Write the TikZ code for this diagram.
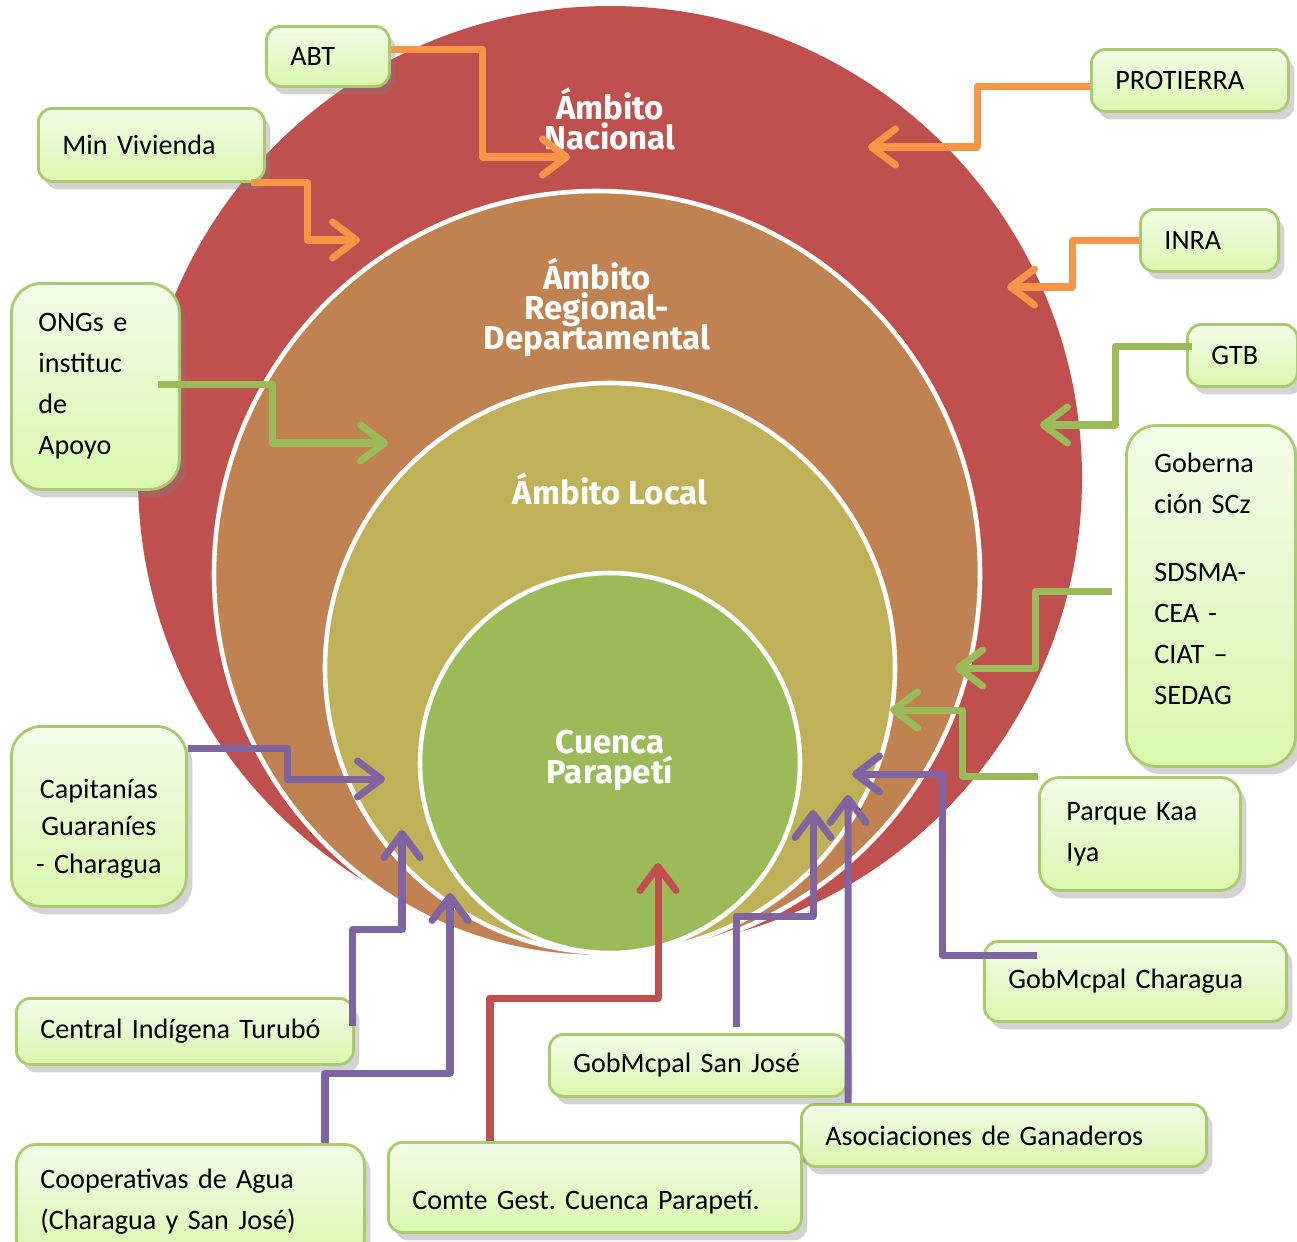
\documentclass[tikz,border=0pt]{standalone}
\usepackage{fontspec}
\setmainfont{Carlito}
\newfontfamily\ringfont{Fira Sans}
\usepackage{tikz}
\usetikzlibrary{arrows.meta,shadows}
\frenchspacing
\newcommand\ringtype{\ringfont\bfseries\fontsize{9.4}{8.5}\selectfont\lineskiplimit -10pt\relax}

\definecolor{nacional}{HTML}{C0504D}
\definecolor{regional}{HTML}{BF8250}
\definecolor{local}{HTML}{BFB158}
\definecolor{cuenca}{HTML}{9BBB59}
\definecolor{boxtop}{HTML}{F2FCE8}
\definecolor{boxbot}{HTML}{DAF8AE}
\definecolor{boxline}{HTML}{A9CB6E}
\definecolor{lorange}{HTML}{F79646}
\definecolor{lgreen}{HTML}{9BBB59}
\definecolor{lpurple}{HTML}{8064A2}
\definecolor{lred}{HTML}{C0504D}

\tikzset{
  ring/.style={circle, draw=white, line width=1.3pt, inner sep=0pt},
  ringlabel/.style={text=white, align=center, font=\ringtype},
  actor/.style={anchor=north west, draw=boxline, line width=0.8pt, rounded corners=1.4mm,
    top color=boxtop, bottom color=boxbot,
    drop shadow={opacity=0.35, shadow xshift=0.6mm, shadow yshift=-0.8mm},
    align=left, inner xsep=2.4mm, inner ysep=0pt, font=\fontsize{8}{11.7}\selectfont},
  link/.style={line width=2pt, line join=round, -{Straight Barb[length=2.4mm,width=3.6mm,round]}}
}

\begin{document}
\begin{tikzpicture}
  \useasboundingbox (0,0) rectangle (12.97,-12.41);

  % nested circles
  \node[circle, fill=nacional, inner sep=0pt, minimum size=9.44cm] (nacional) at (6.10,-4.78) {};
  \node[ring, fill=regional, minimum size=7.66cm] (regional) at (5.97,-5.74) {};
  \node[ring, fill=local, minimum size=5.70cm] (local) at (6.10,-6.68) {};
  \node[ring, fill=cuenca, minimum size=3.80cm] (cuenca) at (6.10,-7.63) {};

  % circle labels
  \node[ringlabel] (lnacional) at (6.10,-1.19) {Ámbito\\Nacional};
  \node[ringlabel] (lregional) at (5.97,-3.07) {Ámbito\\Regional-\\Departamental};
  \node[ringlabel] (llocal) at (6.10,-4.89) {Ámbito Local};
  \node[ringlabel] (lcuenca) at (6.10,-7.60) {Cuenca\\Parapetí};

  % actors
  \node[actor, text width=0.75cm, minimum height=0.60cm] (abt) at (2.65,-0.25) {ABT};
  \node[actor, text width=1.78cm, minimum height=0.73cm] (minviv) at (0.37,-1.07) {Min Vivienda};
  \node[actor, rounded corners=3mm, text width=1.14cm, minimum height=2.06cm, inner xsep=2.7mm] (ongs) at (0.10,-2.82) {ONGs e\\instituc\\de\\Apoyo};
  \node[actor, text width=1.49cm, minimum height=0.62cm] (protierra) at (10.90,-0.48) {PROTIERRA};
  \node[actor, text width=0.90cm, minimum height=0.62cm] (inra) at (11.39,-2.08) {INRA};
  \node[actor, text width=0.62cm, minimum height=0.62cm] (gtb) at (11.86,-3.23) {GTB};
  \node[actor, rounded corners=3mm, text width=1.13cm, minimum height=3.41cm, inner xsep=2.8mm] (goberna) at (11.25,-4.24) {Goberna\\ción SCz\\[0.27cm]SDSMA-\\CEA -\\CIAT –\\SEDAG\\[-0.07cm]\mbox{}};
  \node[actor, rounded corners=2mm, text width=1.47cm, minimum height=1.13cm, inner xsep=2.7mm] (parque) at (10.38,-7.76) {Parque Kaa\\Iya};
  \node[actor, text width=2.54cm, minimum height=0.80cm] (gobcharagua) at (9.83,-9.40) {GobMcpal Charagua};
  \node[actor, text width=3.57cm, minimum height=0.62cm] (asoc) at (8.00,-11.03) {Asociaciones de Ganaderos};
  \node[actor, text width=2.49cm, minimum height=0.62cm] (sanjose) at (5.48,-10.33) {GobMcpal San José};
  \node[actor, text width=3.65cm, minimum height=0.90cm, text height=0.52cm, text depth=0.08cm] (comte) at (3.87,-11.41) {Comte Gest. Cuenca Parapetí.};
  \node[actor, rounded corners=2mm, text width=3.00cm, minimum height=1.15cm] (coop) at (0.15,-11.43) {Cooperativas de Agua\\(Charagua y San José)};
  \node[actor, text width=2.89cm, minimum height=0.66cm] (central) at (0.15,-9.97) {Central Indígena Turubó};
  \node[actor, rounded corners=3mm, align=center, text width=1.27cm, minimum height=1.80cm, font=\fontsize{8}{10.8}\selectfont] (capit) at (0.10,-7.25) {\mbox{}\\[0.06cm]Capitanías\\Guaraníes\\- Charagua};

  % arrow tips
  \coordinate (tipabt) at (5.70,-1.57);
  \coordinate (tipminviv) at (3.60,-2.40);
  \coordinate (tipprot) at (8.68,-1.47);
  \coordinate (tipinra) at (10.07,-2.87);
  \coordinate (tipgtb) at (10.40,-4.25);
  \coordinate (tipongs) at (3.88,-4.43);
  \coordinate (tipgob) at (9.55,-6.68);
  \coordinate (tipparque) at (8.90,-7.10);
  \coordinate (tipcapit) at (3.85,-7.79);
  \coordinate (tipcentral) at (4.02,-8.30);
  \coordinate (tipcoop) at (4.50,-8.93);
  \coordinate (tipsanjose) at (8.13,-8.10);
  \coordinate (tipasoc) at (8.48,-7.95);
  \coordinate (tipgobch) at (8.52,-7.74);
  \coordinate (tipcomte) at (6.58,-8.63);

  % national links
  \draw[link, lorange] ([yshift=0.7mm]abt.east) -- ++(0.92,0) |- (tipabt);
  \draw[link, lorange] ([xshift=-1.5mm]minviv.south east) -- ++(0.57,0) |- (tipminviv);
  \draw[link, lorange] ([yshift=-0.6mm]protierra.west) -- ++(-1.13,0) |- (tipprot);
  \draw[link, lorange] (inra.west) -- ++(-0.67,0) |- (tipinra);

  % regional links
  \draw[link, lgreen] ([xshift=0.6mm,yshift=0.9mm]gtb.west) -- ++(-0.77,0) |- (tipgtb);
  \draw[link, lgreen] ([xshift=-2.3mm,yshift=0.2mm]ongs.east) -- ++(1.15,0) |- (tipongs);
  \draw[link, lgreen] ([xshift=-1.3mm,yshift=0.4mm]goberna.west) -- ++(-0.77,0) |- (tipgob);
  \draw[link, lgreen] (parque.north west) -- ++(-0.76,0) |- (tipparque);

  % local links
  \draw[link, lpurple] ([yshift=-2.3mm]capit.north east) -- ++(1.00,0) |- (tipcapit);
  \draw[link, lpurple] ([xshift=-0.2mm,yshift=0.5mm]central.east) -- ++(0,0.97) -| (tipcentral);
  \draw[link, lpurple] ([xshift=3.1cm]coop.north west) -- ++(0,0.70) -| (tipcoop);
  \draw[link, lpurple] ([xshift=3.9mm,yshift=0.6mm]sanjose.north) -- ++(0,1.11) -| (tipsanjose);
  \draw[link, lpurple] ([xshift=4.8mm]asoc.north west) -- (tipasoc);
  \draw[link, lpurple] ([xshift=5.4mm,yshift=-1.5mm]gobcharagua.north west) -- ++(-0.95,0) |- (tipgobch);

  % basin link
  \draw[link, lred] ([xshift=10.3mm]comte.north west) -- ++(0,1.43) -| (tipcomte);
\end{tikzpicture}
\end{document}
